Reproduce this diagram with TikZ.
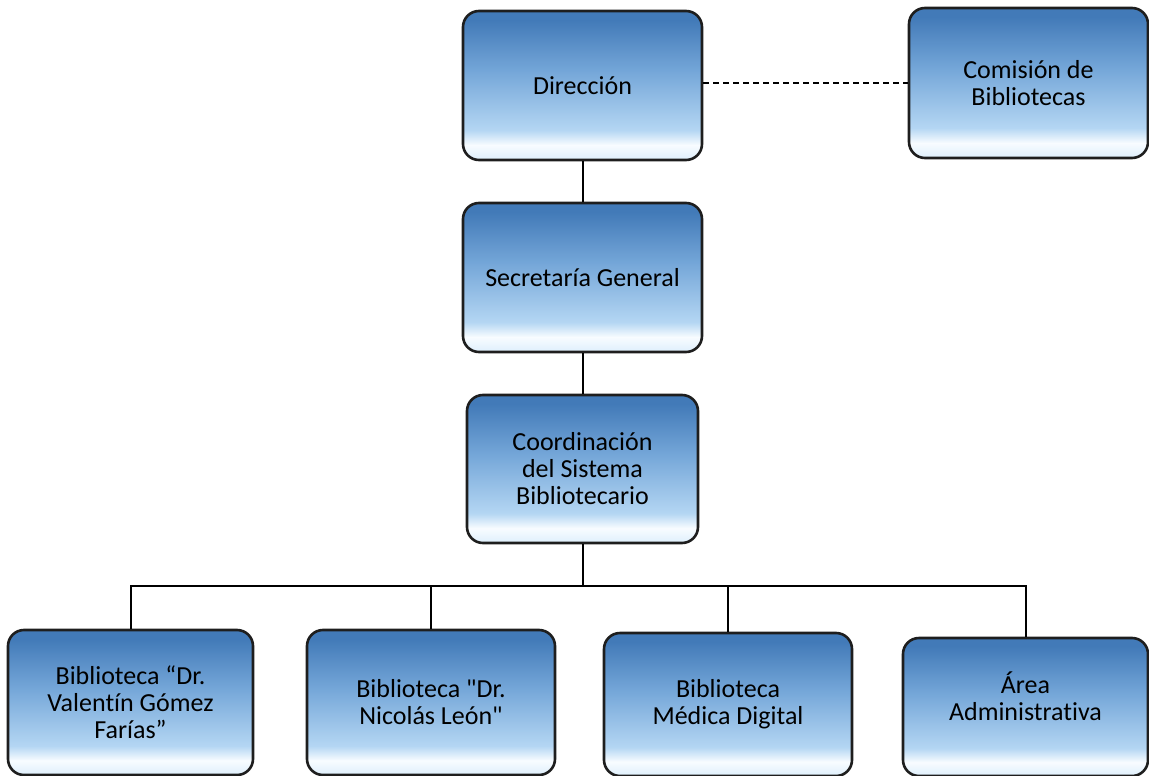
\documentclass[tikz,border=0pt]{standalone}
\usepackage{fontspec}
\setmainfont{Carlito}[Ligatures={NoCommon}]
\newfontfamily\rawq{Carlito}[Ligatures=ResetAll]
\newcommand{\sq}{{\rawq"}}
\definecolor{bb0}{RGB}{66,122,184}
\definecolor{bb1}{RGB}{116,166,216}
\definecolor{bb2}{RGB}{180,214,243}
\definecolor{bb3}{RGB}{222,239,252}
\definecolor{bb4}{RGB}{248,252,255}
\definecolor{edge}{RGB}{30,30,30}
\pgfdeclareverticalshading{boxshade}{100bp}{color(0bp)=(bb3); color(25bp)=(bb3); color(30bp)=(bb4); color(35bp)=(bb2); color(55bp)=(bb1); color(72bp)=(bb0); color(75bp)=(bb0); color(100bp)=(bb0)}
\begin{document}
\begin{tikzpicture}[x=1pt,y=-1pt,
  orgbox/.style={draw=edge, line width=2.6pt, rounded corners=16pt, shading=boxshade,
    font=\fontsize{26}{27}\selectfont, align=center, inner sep=0pt, text=black},
  link/.style={line width=2pt, draw=black},
  dashlink/.style={line width=2pt, draw=black, dash pattern=on 6pt off 4pt}]
\useasboundingbox (0,0) rectangle (1149,776);
\node[orgbox, minimum width=239pt, minimum height=149pt] (dir) at (582.5,85.5) {Dirección};
\node[orgbox, minimum width=239pt, minimum height=150pt] (com) at (1028.5,83) {Comisión de\\Bibliotecas};
\node[orgbox, minimum width=239pt, minimum height=149pt] (sec) at (582.5,277.5) {Secretaría General};
\node[orgbox, minimum width=231pt, minimum height=148pt] (coo) at (582.5,469) {Coordinación\\del Sistema\\Bibliotecario};
\node[orgbox, minimum width=245pt, minimum height=145pt] (b1) at (130.5,702.5) {Biblioteca “Dr.\\Valentín Gómez\\Farías”};
\node[orgbox, minimum width=248pt, minimum height=145pt] (b2) at (431,702.5) {Biblioteca \sq Dr.\\Nicolás León\sq};
\node[orgbox, minimum width=248pt, minimum height=143pt] (b3) at (728,704.5) {Biblioteca\\Médica Digital};
\node[orgbox, minimum width=245pt, minimum height=138pt, text depth=22pt] (b4) at (1025.5,707) {Área\\Administrativa};
\coordinate (bus) at (582.5,586);
\draw[dashlink] (dir.east |- 0,83) -- (com.west |- 0,83);
\draw[link] (dir) -- (sec);
\draw[link] (sec) -- (coo);
\draw[link] (coo.south) -- (bus);
\draw[link] (b1.north) |- (bus) -| (b4.north);
\draw[link] (b2.north) -- (b2.north |- bus);
\draw[link] (b3.north) -- (b3.north |- bus);
\end{tikzpicture}
\end{document}
